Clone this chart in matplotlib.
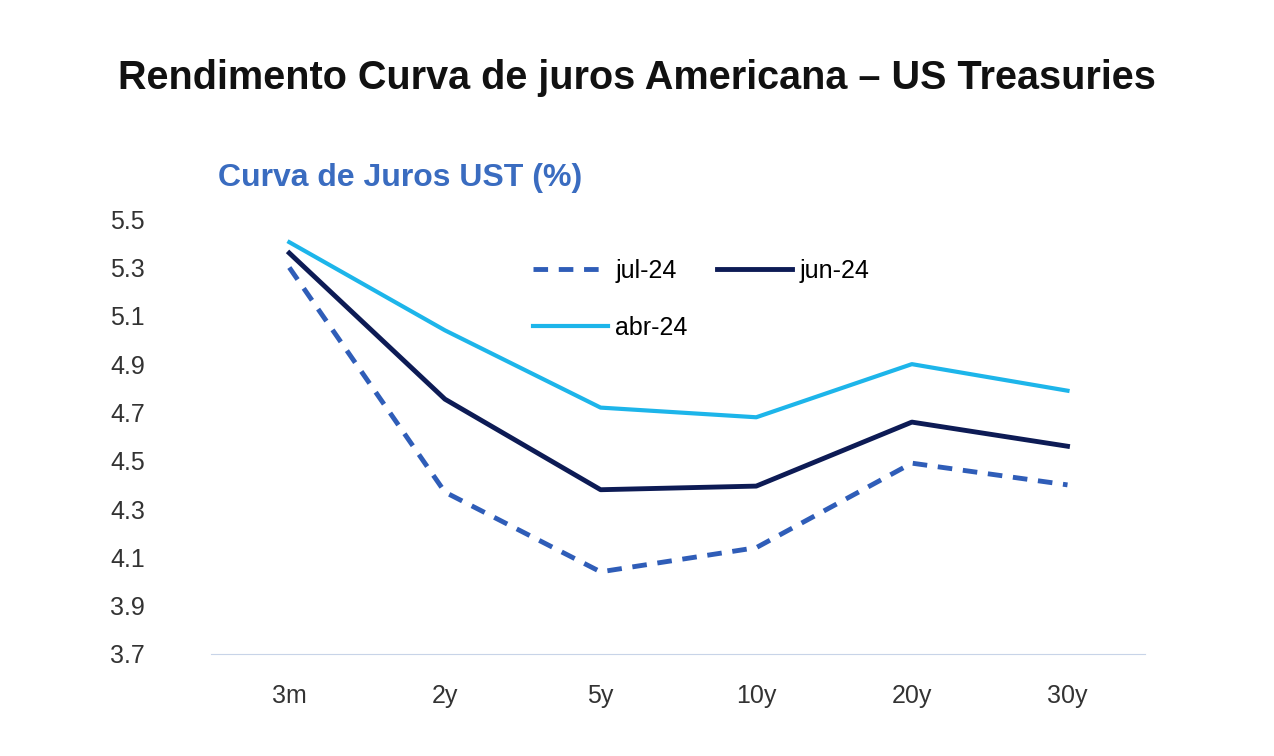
import matplotlib.pyplot as plt

categories = ["3m", "2y", "5y", "10y", "20y", "30y"]
jul24 = [5.30, 4.37, 4.04, 4.14, 4.49, 4.40]
jun24 = [5.36, 4.755, 4.38, 4.395, 4.66, 4.56]
abr24 = [5.405, 5.04, 4.72, 4.68, 4.90, 4.79]
yticks = [3.7, 3.9, 4.1, 4.3, 4.5, 4.7, 4.9, 5.1, 5.3, 5.5]

plt.rcParams['font.family'] = ['Liberation Sans', 'DejaVu Sans']
fig = plt.figure(figsize=(12.74, 7.56), dpi=100)
ax = fig.add_axes([0.166, 0.135, 0.733, 0.575])
x = range(len(categories))
l1, = ax.plot(x, jul24, color='#2F5DB8', lw=3.5, dashes=(3, 2.2), label='jul-24')
l2, = ax.plot(x, jun24, color='#0D1B55', lw=3.5, label='jun-24')
l3, = ax.plot(x, abr24, color='#1DB5EA', lw=3, label='abr-24')
ax.set_xlim(-0.5, len(categories) - 0.5)
ax.set_ylim(3.7, 5.5)
ax.set_yticks(yticks)
ax.set_yticklabels([f"{v:.1f}" for v in yticks])
ax.set_xticks(list(x))
ax.set_xticklabels(categories)
for s in ['top', 'right', 'left']:
    ax.spines[s].set_visible(False)
ax.spines['bottom'].set_color('#C8D4E8')
ax.tick_params(length=0, labelsize=18, colors='#333333')
ax.tick_params(axis='x', pad=22)
ax.tick_params(axis='y', pad=48)

leg1 = ax.legend(handles=[l1, l2], loc='upper left', bbox_to_anchor=(0.32, 0.96), ncol=2,
                 frameon=False, fontsize=18, handlelength=3, columnspacing=1.6, handletextpad=0.3)
ax.add_artist(leg1)
ax.legend(handles=[l3], loc='upper left', bbox_to_anchor=(0.32, 0.83), frameon=False,
          fontsize=18, handlelength=3, handletextpad=0.3)

fig.text(0.5, 0.897, "Rendimento Curva de juros Americana – US Treasuries", ha='center',
         va='center', fontsize=28.5, fontweight='bold', color='#111111')
fig.text(0.171, 0.765, "Curva de Juros UST (%)", ha='left', va='center', fontsize=23,
         fontweight='bold', color='#3A6CC0')
fig.savefig('out.png', dpi=100, facecolor='white')
